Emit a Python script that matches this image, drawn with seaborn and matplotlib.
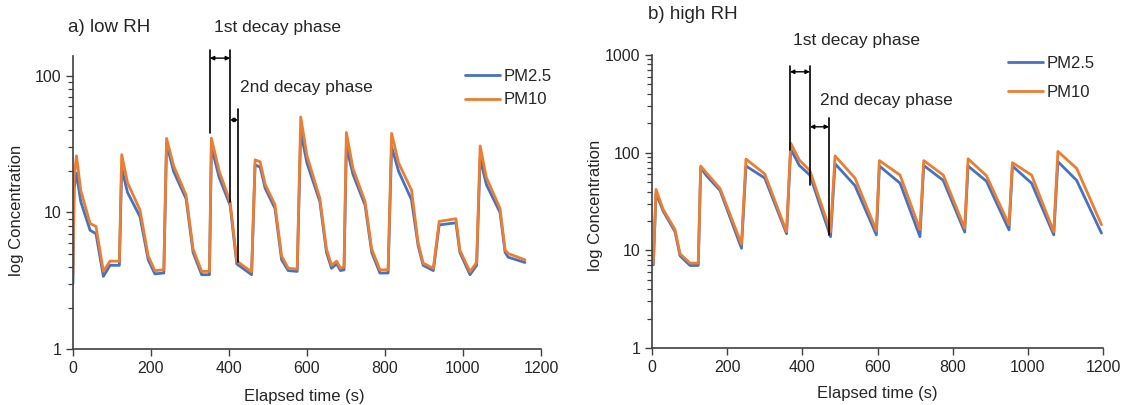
import numpy as np
import pandas as pd
import matplotlib
matplotlib.use('Agg')
import matplotlib.pyplot as plt
import matplotlib.ticker as mticker
import seaborn as sns

# ---- data (time in s, concentration) ----
t_low = [0, 3, 9, 20, 44, 59, 78, 95, 119, 125, 140, 172, 193, 210, 233, 240, 258, 290, 308, 330, 350,
         355, 375, 403, 420, 458, 467, 480, 493, 518, 535, 552, 575, 584, 600, 633, 650, 663, 676, 686,
         695, 701, 718, 749, 766, 787, 808, 817, 835, 868, 885, 898, 924, 939, 982, 992, 1018, 1035,
         1044, 1060, 1095, 1108, 1116, 1159]
pm25_low = [3.0, 15, 19.4, 12, 7.4, 7.0, 3.4, 4.1, 4.1, 21, 14, 9.3, 4.5, 3.55, 3.6, 32, 20, 12.6, 5.1, 3.5, 3.5,
            30.3, 18, 11.3, 4.2, 3.5, 22.3, 21.5, 15, 10.7, 4.5, 3.75, 3.7, 39, 23, 12, 5.1, 3.9, 4.2, 3.75,
            3.8, 30.3, 19, 11.3, 5.1, 3.6, 3.6, 30.3, 20, 12.4, 5.7, 4.1, 3.75, 8.1, 8.4, 5.1, 3.5, 4.1,
            25, 16, 10, 5.1, 4.7, 4.3]
pm10_low = [3.5, 18, 26, 14.5, 8.3, 7.9, 3.7, 4.4, 4.4, 26.5, 16.5, 10.4, 4.8, 3.75, 3.8, 34.9, 22, 13.4, 5.4, 3.7, 3.7,
            35, 20, 12, 4.4, 3.68, 24.3, 23.5, 16, 11.4, 4.8, 3.9, 3.85, 50, 26, 12.7, 5.4, 4.1, 4.4, 3.9,
            4.0, 38.5, 21, 12, 5.4, 3.8, 3.8, 38, 23, 14.6, 6.0, 4.25, 3.9, 8.6, 9.0, 5.3, 3.68, 4.3,
            30.7, 18, 10.7, 5.3, 5.0, 4.5]

t_high = [3.5, 10.6, 30, 61, 74.5, 101, 123, 129.5, 145, 181, 238, 250, 300, 358, 369, 392, 420, 475,
          487, 540, 597, 605, 660, 713, 723, 775, 832, 841, 890, 950, 959, 1010, 1069, 1080, 1130, 1196]
pm25_high = [7.1, 38.5, 25, 15.6, 8.8, 7.0, 7.0, 70, 58, 41, 10.5, 73, 55, 14.8, 109, 74, 59, 13.8,
             77, 46, 14.4, 73, 48.7, 13.8, 74, 52, 15.4, 73, 51, 16.2, 73, 48.7, 14.4, 81, 52, 15]
pm10_high = [7.4, 42, 26, 16.4, 9.2, 7.4, 7.4, 73, 62, 43, 11.6, 86, 60.5, 15.5, 125, 84, 65.6, 15.5,
             92.7, 55, 15.9, 83, 59, 16.3, 83, 59, 16.8, 86.5, 58, 18.3, 79, 59, 15.5, 103, 69, 18.3]

# decay phase boundaries (s) marked in each panel
phase_low = [351, 403, 423]
phase_high = [367, 420, 471]

series = ['PM2.5', 'PM10']
colors = {'PM2.5': '#4472C4', 'PM10': '#ED7D31'}


def long_df(t, a, b):
    d1 = pd.DataFrame({'time': t, 'conc': a, 'series': 'PM2.5'})
    d2 = pd.DataFrame({'time': t, 'conc': b, 'series': 'PM10'})
    return pd.concat([d1, d2], ignore_index=True)


df_low = long_df(t_low, pm25_low, pm10_low)
df_high = long_df(t_high, pm25_high, pm10_high)

sns.set_style('ticks')
plt.rcParams['font.family'] = ['Liberation Sans', 'DejaVu Sans']
txt = '#262626'
axc = '#404040'

fig = plt.figure(figsize=(11.24, 4.05), dpi=100)
ax1 = fig.add_axes([0.0649, 0.1383, 0.4164, 0.7235])
ax2 = fig.add_axes([0.5801, 0.1407, 0.4012, 0.7235])


def style_axis(ax, ymax, majors):
    ax.set_yscale('log')
    ax.set_xlim(0, 1200)
    ax.set_ylim(1, ymax)
    ax.set_xticks(range(0, 1201, 200))
    ax.yaxis.set_major_locator(mticker.FixedLocator(majors))
    ax.yaxis.set_major_formatter(mticker.FuncFormatter(lambda v, p: '%d' % v))
    ax.yaxis.set_minor_locator(mticker.LogLocator(base=10, subs=np.arange(2, 10)))
    ax.yaxis.set_minor_formatter(mticker.NullFormatter())
    for s in ['top', 'right']:
        ax.spines[s].set_visible(False)
    for s in ['left', 'bottom']:
        ax.spines[s].set_color(axc)
        ax.spines[s].set_linewidth(1.2)
    ax.tick_params(axis='both', which='major', labelsize=11.5, colors=axc, labelcolor=txt,
                   length=5, width=1, direction='out')
    ax.tick_params(axis='y', which='minor', length=3.5, width=0.9, colors=axc)
    ax.set_xlabel('Elapsed time (s)', fontsize=12, color=txt)
    ax.set_ylabel('log Concentration', fontsize=12, color=txt)


def draw_phases(ax, ph, tops, bottoms, arrow_y):
    # vertical marker lines
    for x, y0, y1 in zip(ph, bottoms, tops):
        ax.plot([x, x], [y0, y1], color='black', lw=1.2, clip_on=False, zorder=5)
    # double arrows for each phase
    for (xa, xb), ya in zip([(ph[0], ph[1]), (ph[1], ph[2])], arrow_y):
        ax.annotate('', xy=(xa, ya), xytext=(xb, ya),
                    arrowprops=dict(arrowstyle='<|-|>', color='black', lw=1.0,
                                    shrinkA=0, shrinkB=0, mutation_scale=6),
                    annotation_clip=False)


for ax, df in [(ax1, df_low), (ax2, df_high)]:
    sns.lineplot(data=df, x='time', y='conc', hue='series', hue_order=series,
                 palette=colors, estimator=None, linewidth=2, legend=False, ax=ax)

style_axis(ax1, 140, [1, 10, 100])
style_axis(ax2, 1000, [1, 10, 100, 1000])

ax1.yaxis.set_label_coords(-0.105, 0.474)
ax2.yaxis.set_label_coords(-0.108, 0.488)
ax1.xaxis.set_label_coords(0.494, -0.135)
ax2.xaxis.set_label_coords(0.499, -0.128)

# legends
h1 = ax1.get_lines()[:2]
ax1.legend(h1, series, loc='upper left', bbox_to_anchor=(0.838, 0.955), frameon=False,
           fontsize=12, borderpad=0, borderaxespad=0, handlelength=2.1, handletextpad=0.2,
           labelspacing=0.5, labelcolor=txt)
h2 = ax2.get_lines()[:2]
ax2.legend(h2, series, loc='upper left', bbox_to_anchor=(0.789, 0.998), frameon=False,
           fontsize=12, borderpad=0, borderaxespad=0, handlelength=2.1, handletextpad=0.2,
           labelspacing=0.85, labelcolor=txt)

# decay phase markers
draw_phases(ax1, phase_low, [155, 155, 57], [38, 11.9, 4.3], [135, 47.6])
draw_phases(ax2, phase_high, [775, 775, 227], [107, 46.8, 14.4], [673, 184])

ax1.text(0.436, 1.096, '1st decay phase', transform=ax1.transAxes, ha='center', va='center',
         fontsize=12.5, color=txt)
ax1.text(0.357, 0.891, '2nd decay phase', transform=ax1.transAxes, ha='left', va='center',
         fontsize=12.5, color=txt)
ax2.text(0.4545, 1.048, '1st decay phase', transform=ax2.transAxes, ha='center', va='center',
         fontsize=12.5, color=txt)
ax2.text(0.3725, 0.846, '2nd decay phase', transform=ax2.transAxes, ha='left', va='center',
         fontsize=12.5, color=txt)

fig.text(0.0605, 0.933, 'a) low RH', ha='left', va='center', fontsize=13.5, color=txt)
fig.text(0.5765, 0.965, 'b) high RH', ha='left', va='center', fontsize=13.5, color=txt)

fig.savefig('out.png', dpi=100)
